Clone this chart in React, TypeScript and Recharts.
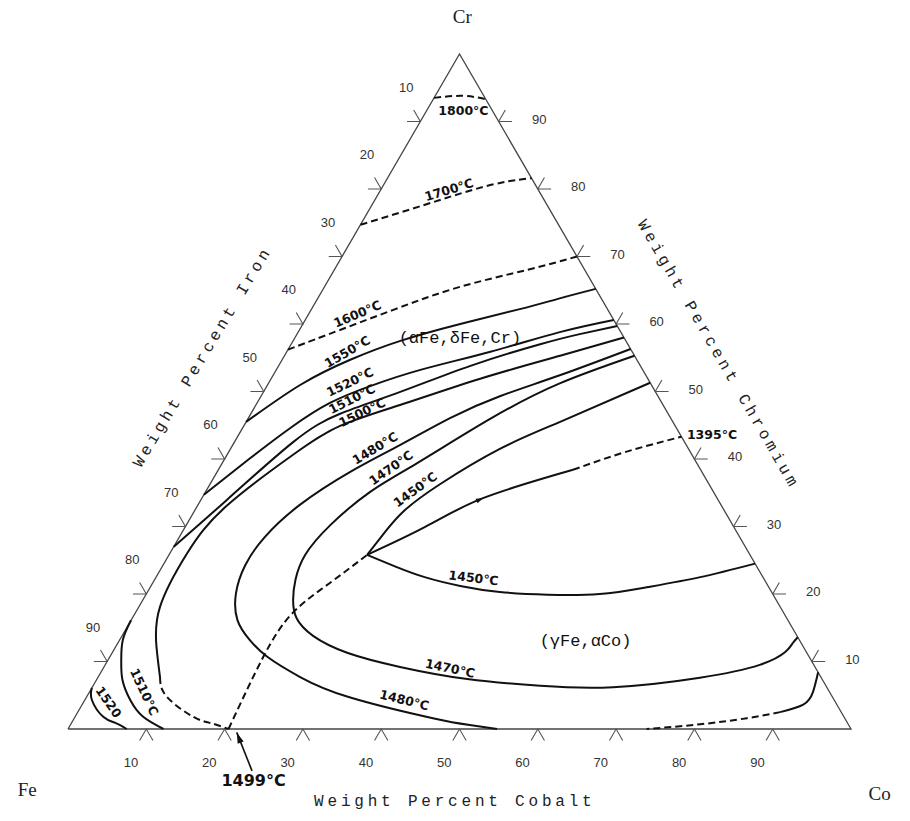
import React from 'react';
import { ComposedChart, Line, Scatter, XAxis, YAxis } from 'recharts';

// every point is [wt% Co, wt% Cr]; Fe is the balance
type Pt = [number, number];

const iso1800: Pt[] = [[0, 93.5], [3.5, 93.8], [6.7, 93.3]];
const iso1700: Pt[] = [[0, 74.7], [6.6, 77.6], [11.8, 79.9], [15.5, 81.1], [18.4, 81.6]];
const iso1600: Pt[] = [[0, 56.2], [3.9, 58.4], [10.5, 62.1], [17.3, 65.5], [24.6, 68.0], [30.0, 70.0]];
const iso1550: Pt[] = [[0, 45.5], [4.2, 51.0], [8.7, 54.7], [13.7, 57.5], [20.1, 60.0], [26.6, 62.2], [30.9, 63.8], [34.8, 65.2]];
const iso1520: Pt[] = [[0, 34.7], [3.2, 40.1], [6.1, 44.6], [9.3, 48.3], [13.2, 50.8], [18.4, 53.2], [26.0, 55.9], [33.4, 58.8], [39.4, 60.6]];
const iso1510: Pt[] = [[0, 27.0], [3.3, 33.9], [7.5, 42.5], [11.4, 46.7], [17.4, 49.9], [24.5, 53.8], [31.8, 57.0], [36.1, 58.5], [40.3, 59.7]];
const iso1500: Pt[] = [[42.0, 58.0], [35.2, 55.3], [26.7, 51.9], [18.4, 48.0], [12.3, 44.9], [8.4, 40.6], [3.7, 33.0], [2.2, 26.0], [2.7, 18.1], [5.2, 12.2], [7.9, 7.7]];
const iso1500Dash: Pt[] = [[7.9, 7.7], [10.2, 4.8], [15.1, 1.8], [17.7, 0.9], [20.5, 0]];
const iso1480: Pt[] = [[43.7, 56.3], [36.6, 52.4], [30.5, 49.3], [25.8, 46.1], [21.4, 42.1], [17.0, 38.1], [13.0, 33.2], [10.9, 28.4], [10.5, 24.3], [11.4, 20.1], [13.6, 16.1], [16.6, 13.2], [20.1, 10.7], [25.8, 7.7], [33.6, 4.7], [45.8, 1.6], [51.0, 0.6], [54.8, 0]];
const iso1470: Pt[] = [[44.7, 55.3], [37.2, 51.2], [30.9, 45.9], [24.9, 39.4], [21.0, 35.1], [18.4, 30.2], [17.4, 25.8], [18.0, 22.1], [19.2, 19.1], [21.0, 16.4], [24.4, 13.8], [30.0, 11.3], [37.8, 9.2], [47.3, 7.4], [57.1, 6.4], [66.5, 6.2], [76.9, 7.6], [83.6, 9.5], [85.9, 11.4], [86.2, 12.7], [86.4, 13.6]];
const iso1450Upper: Pt[] = [[48.7, 51.3], [40.1, 45.5], [34.4, 41.5], [29.4, 36.3], [26.8, 32.4], [25.9, 29.2], [25.3, 25.8]];
const iso1450Lower: Pt[] = [[25.3, 25.8], [29.7, 24.1], [34.3, 22.5], [39.5, 21.2], [45.0, 20.3], [51.3, 19.9], [57.9, 20.0], [63.4, 21.0], [69.5, 22.5], [75.5, 24.5]];
const coCorner: Pt[] = [[91.6, 8.4], [92.4, 5.5], [92.1, 3.6], [89.7, 2.5]];
const coCornerDash: Pt[] = [[89.7, 2.5], [85.9, 1.6], [80.4, 0.7], [73.9, 0]];
const feCorner1510: Pt[] = [[0, 16.1], [0.4, 13.2], [1.7, 10.2], [3.3, 7.3], [5.8, 4.3], [8.7, 1.8], [12.2, 0]];
const feCorner1520: Pt[] = [[0, 6.1], [0.9, 4.3], [3.6, 1.8], [5.6, 0.9], [7.5, 0]];

// monovariant line 1499 °C -> 1395 °C
const monoDash1499: Pt[] = [[20.5, 0], [19.6, 10.7], [20.1, 17.2], [22.6, 21.6], [25.3, 25.8]];
const monoSolid: Pt[] = [[25.3, 25.8], [30.6, 29.9], [35.9, 34.2], [45.3, 38.4]];
const monoDash1395: Pt[] = [[45.3, 38.4], [50.6, 41.0], [56.7, 43.3]];
const arrow1499: Pt[] = [[26.6, -6.2], [21.8, -0.5]];

const tickValues = [10, 20, 30, 40, 50, 60, 70, 80, 90];
const corners: Pt[] = [[0, 0], [100, 0], [0, 100], [0, 0]];

const isoLabels: { text: string; at: Pt; angle: number }[] = [
  { text: '1800°C', at: [4.7, 91.6], angle: 0 },
  { text: '1700°C', at: [8.7, 79.9], angle: -17 },
  { text: '1600°C', at: [6.2, 61.5], angle: -23 },
  { text: '1550°C', at: [7.7, 55.9], angle: -30 },
  { text: '1520°C', at: [10.3, 51.4], angle: -26 },
  { text: '1510°C', at: [11.8, 48.9], angle: -27 },
  { text: '1500°C', at: [14.1, 46.9], angle: -26 },
  { text: '1480°C', at: [18.4, 41.6], angle: -31 },
  { text: '1470°C', at: [21.9, 38.7], angle: -35 },
  { text: '1450°C', at: [26.6, 35.5], angle: -36 },
  { text: '1450°C', at: [40.6, 22.4], angle: 7 },
  { text: '1470°C', at: [44.3, 9.0], angle: 12 },
  { text: '1480°C', at: [40.8, 4.3], angle: 14 },
  { text: '1395°C', at: [60.4, 43.7], angle: 0 },
  { text: '1510°C', at: [7.0, 5.5], angle: 65 },
  { text: '1520', at: [3.2, 4.0], angle: 55 },
];

const otherLabels: { text: string; at: Pt; angle: number; kind: string }[] = [
  { text: '1499°C', at: [27.5, -7.6], angle: 0, kind: 'big' },
  { text: '(αFe,δFe,Cr)', at: [21.1, 57.9], angle: 0, kind: 'phase' },
  { text: '(γFe,αCo)', at: [59.6, 13.0], angle: 0, kind: 'phase' },
  { text: 'Cr', at: [-2.4, 105.5], angle: 0, kind: 'vertex' },
  { text: 'Fe', at: [-0.7, -9.0], angle: 0, kind: 'vertex' },
  { text: 'Co', at: [108.4, -9.5], angle: 0, kind: 'vertex' },
  { text: 'Weight Percent Cobalt', at: [54.8, -10.8], angle: 0, kind: 'title' },
  { text: 'Weight Percent Iron', at: [-10.3, 55.1], angle: -59, kind: 'title' },
  { text: 'Weight Percent Chromium', at: [55.3, 55.4], angle: 60, kind: 'title' },
];

const W = 910;
const H = 821;
// triangle placement: Fe corner at px 68, Co corner at px 851, base at py 729, apex at py 54
const X_DOMAIN: [number, number] = [-68 / 7.83, (W - 68) / 7.83];
const Y_DOMAIN: [number, number] = [(729 - H) / 6.75, 729 / 6.75];

const toXY = (pts: Pt[]) => pts.map(([co, cr]) => ({ x: co + cr / 2, y: cr }));
const L = 1.7;

const tickMarks: Pt[][] = [
  ...tickValues.map((c): Pt[] => [[c, -L], [c, 0], [c + L, -L]]),
  ...tickValues.map((f): Pt[] => [[-L, 100 - f + L], [0, 100 - f], [-L, 100 - f]]),
  ...tickValues.map((r): Pt[] => [[100 - r + L, r], [100 - r, r], [100 - r, r + L]]),
];

const textData = [
  ...isoLabels.map((d) => ({ ...toXY([d.at])[0], text: d.text, angle: d.angle, kind: 'temp' })),
  ...otherLabels.map((d) => ({ ...toXY([d.at])[0], text: d.text, angle: d.angle, kind: d.kind })),
  ...tickValues.map((c) => ({ ...toXY([[c + 0.5, -4.9]])[0], text: String(c), angle: 0, kind: 'tick' })),
  ...tickValues.map((f) => ({ ...toXY([[-4.35, 100 - f + 5.1]])[0], text: String(f), angle: 0, kind: 'tick' })),
  ...tickValues.map((r) => ({ ...toXY([[105 - r, r + 0.35]])[0], text: String(r), angle: 0, kind: 'tick' })),
];

const arrowData = [
  { ...toXY([[35.9, 34.2]])[0], angle: -24, len: 7, half: 2.5 },
  { ...toXY([arrow1499[1]])[0], angle: -111, len: 11, half: 3.2 },
];

const textStyles: Record<string, React.CSSProperties> = {
  temp: { fontFamily: 'DejaVu Sans', fontSize: 12.5, fontWeight: 700, fill: '#111' },
  big: { fontFamily: 'DejaVu Sans', fontSize: 16, fontWeight: 700, fill: '#111' },
  phase: { fontFamily: 'Liberation Mono', fontSize: 17, fill: '#111' },
  vertex: { fontFamily: 'Liberation Serif', fontSize: 19, fill: '#222' },
  title: { fontFamily: 'Liberation Mono', fontSize: 16, letterSpacing: 3.8, fill: '#222' },
  tick: { fontFamily: 'Liberation Sans', fontSize: 13, fill: '#333' },
};

const TextShape = (props: any) => {
  const { cx, cy, payload } = props;
  return (
    <text
      x={cx}
      y={cy}
      textAnchor="middle"
      dominantBaseline="central"
      transform={payload.angle ? `rotate(${payload.angle} ${cx} ${cy})` : undefined}
      style={textStyles[payload.kind]}
    >
      {payload.text}
    </text>
  );
};

const ArrowShape = (props: any) => {
  const { cx, cy, payload } = props;
  const { len, half, angle } = payload;
  return (
    <polygon
      points={`${cx},${cy} ${cx - len},${cy - half} ${cx - len},${cy + half}`}
      transform={`rotate(${angle} ${cx} ${cy})`}
      fill="#111"
    />
  );
};

const curves: { pts: Pt[]; dashed?: boolean }[] = [
  { pts: iso1800, dashed: true },
  { pts: iso1700, dashed: true },
  { pts: iso1600, dashed: true },
  { pts: iso1550 },
  { pts: iso1520 },
  { pts: iso1510 },
  { pts: iso1500 },
  { pts: iso1500Dash, dashed: true },
  { pts: iso1480 },
  { pts: iso1470 },
  { pts: iso1450Upper },
  { pts: iso1450Lower },
  { pts: coCorner },
  { pts: coCornerDash, dashed: true },
  { pts: feCorner1510 },
  { pts: feCorner1520 },
  { pts: monoDash1499, dashed: true },
  { pts: monoSolid },
  { pts: monoDash1395, dashed: true },
];

const App: React.FC = () => {
  return (
    <div style={{ position: 'absolute', left: 0, top: 0, width: W, height: H, background: '#fff' }}>
      <ComposedChart width={W} height={H} margin={{ top: 0, right: 0, bottom: 0, left: 0 }}>
        <XAxis type="number" dataKey="x" domain={X_DOMAIN} allowDataOverflow hide />
        <YAxis type="number" dataKey="y" domain={Y_DOMAIN} allowDataOverflow hide />

        <Line
          data={toXY(corners)}
          dataKey="y"
          type="linear"
          stroke="#444"
          strokeWidth={1.3}
          dot={false}
          activeDot={false}
          isAnimationActive={false}
        />
        {tickMarks.map((t, i) => (
          <Line
            key={`tick-${i}`}
            data={toXY(t)}
            dataKey="y"
            type="linear"
            stroke="#555"
            strokeWidth={1.1}
            dot={false}
            activeDot={false}
            isAnimationActive={false}
          />
        ))}
        {curves.map((c, i) => (
          <Line
            key={`curve-${i}`}
            data={toXY(c.pts)}
            dataKey="y"
            type="natural"
            stroke="#111"
            strokeWidth={2}
            strokeDasharray={c.dashed ? '7 4' : undefined}
            dot={false}
            activeDot={false}
            isAnimationActive={false}
          />
        ))}
        <Line
          data={toXY(arrow1499)}
          dataKey="y"
          type="linear"
          stroke="#111"
          strokeWidth={1.6}
          dot={false}
          activeDot={false}
          isAnimationActive={false}
        />
        <Scatter data={arrowData} shape={ArrowShape} isAnimationActive={false} />
        <Scatter data={textData} shape={TextShape} isAnimationActive={false} />
      </ComposedChart>
    </div>
  );
};

export default App;
